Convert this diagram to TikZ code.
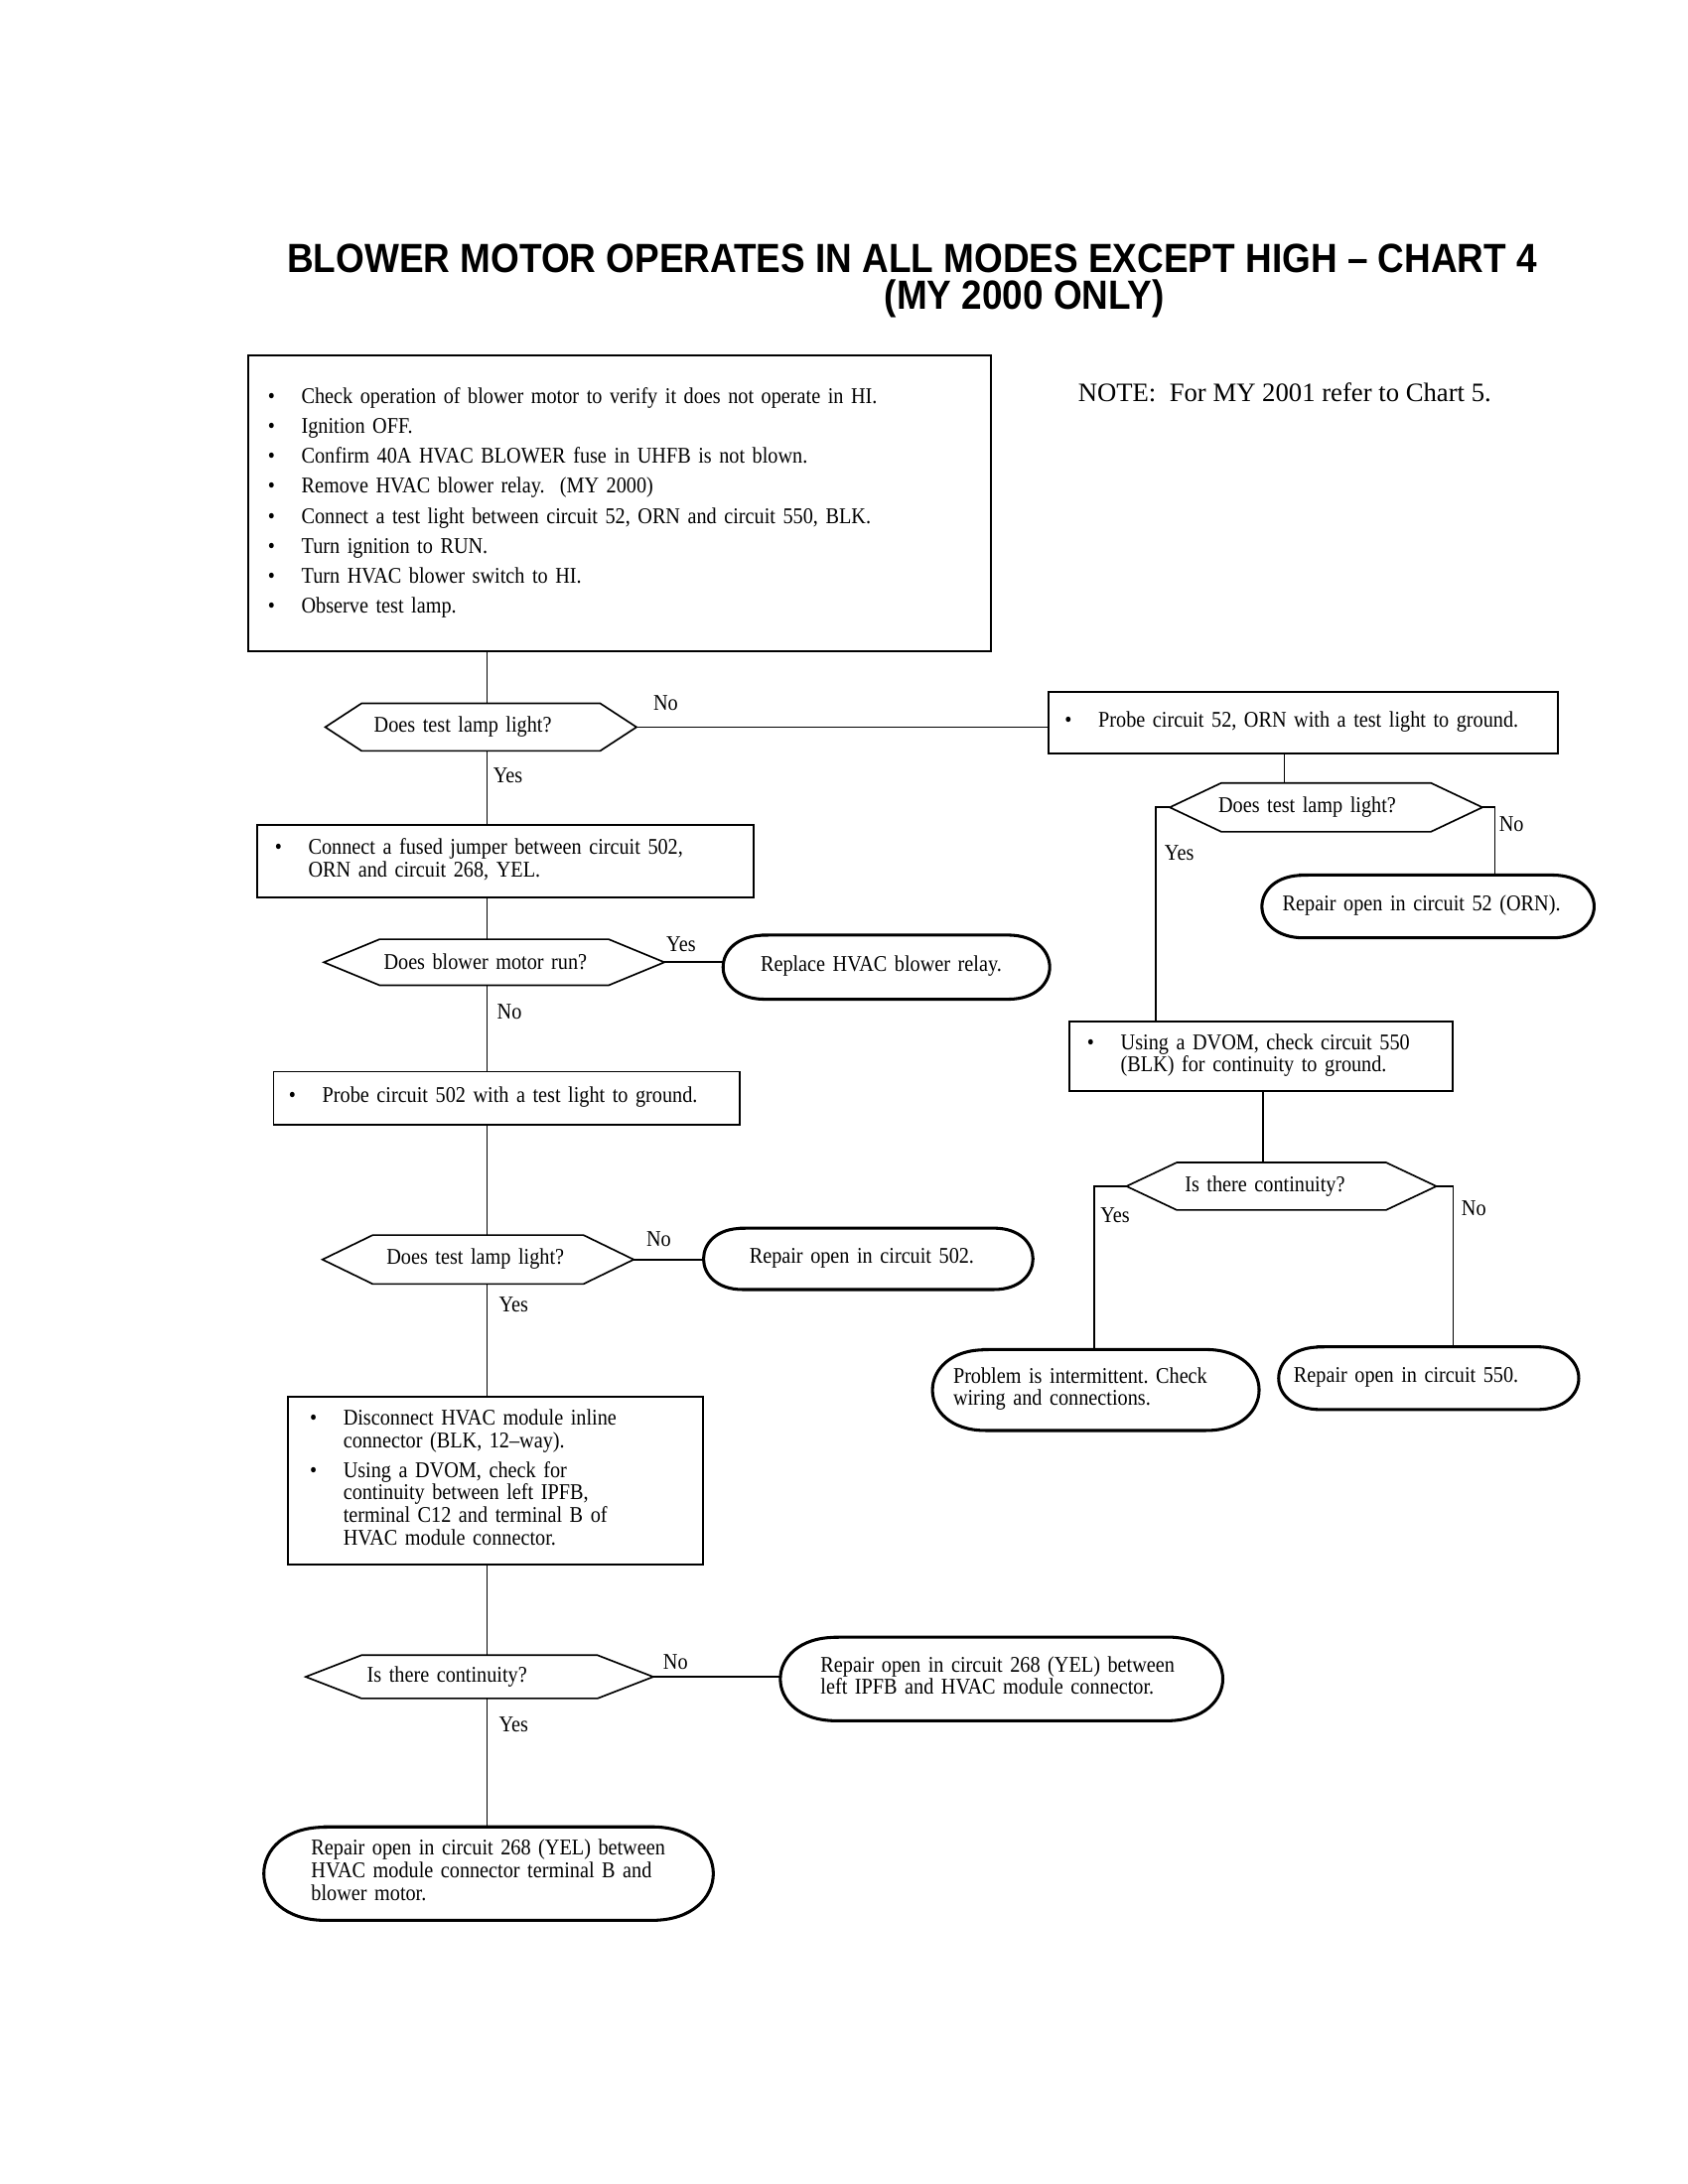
\documentclass[tikz,border=0pt]{standalone}
\usepackage{fontspec}
\setmainfont{Liberation Serif}
\newfontfamily\bodyfont[FakeStretch=0.894]{Liberation Serif}
\newfontfamily\titlefont[FakeStretch=0.9]{Liberation Sans}
\usetikzlibrary{calc}
\frenchspacing
\newcommand\hexout[2]{\draw[hexline] (#1.west) -- ([xshift=#2]#1.north west) -- ([xshift=-#2]#1.north east) -- (#1.east) -- ([xshift=-#2]#1.south east) -- ([xshift=#2]#1.south west) -- cycle;}
\newcommand\ovalout[2]{\draw[ovalline] ([xshift=#2]#1.north west) -- ([xshift=-#2]#1.north east) .. controls ([xshift=#2/3]#1.north east) and ([xshift=#2/3]#1.south east) .. ([xshift=-#2]#1.south east) -- ([xshift=#2]#1.south west) .. controls ([xshift=-#2/3]#1.south west) and ([xshift=-#2/3]#1.north west) .. cycle;}
\newcommand\gapb{\\[2.6pt]}
\begin{document}
\begin{tikzpicture}[x=0.5pt,y=-0.5pt,scale=1.012,every node/.style={transform shape},
  base/.style={font=\bodyfont\fontsize{8.05}{8.1}\selectfont, inner ysep=0pt, outer sep=0pt, align=left},
  rbox/.style={base, draw, line width=0.7pt},
  hexa/.style={base},
  ovalb/.style={base},
  hexline/.style={line width=0.6pt},
  ovalline/.style={line width=1.1pt},
  conn/.style={line width=0.6pt},
  lbl/.style={font=\bodyfont\fontsize{8.05}{8.1}\selectfont, inner sep=0pt},
]
\useasboundingbox (0,0) rectangle (1209.49,1565.22);

% title and note
\node[font=\titlefont\bfseries\fontsize{14.6}{16}\selectfont, inner sep=0pt] (title1) at (653.5,185) {BLOWER MOTOR OPERATES IN ALL MODES EXCEPT HIGH – CHART 4};
\node[font=\titlefont\bfseries\fontsize{14.6}{16}\selectfont, inner sep=0pt] (title2) at (734,214) {(MY 2000 ONLY)};
\node[font=\fontsize{9.5}{11}\selectfont, inner sep=0pt] (note) at (920.5,281) {NOTE:\ \ For MY 2001 refer to Chart 5.};

% columns
\coordinate (spine) at (349,0);
\coordinate (c920) at (920,0);
\coordinate (c905) at (905,0);
\coordinate (cYC) at (828,0);
\coordinate (cNC) at (1071,0);
\coordinate (cYP) at (784,0);
\coordinate (cNP) at (1041,0);

% boxes
\node[rbox, minimum width=266pt, minimum height=106pt, inner xsep=7pt, text width=252pt] (start) at (444,361) {%
\begin{tabular}{@{}p{12pt}@{}l@{}}
\textbullet & Check operation of blower motor to verify it does not operate in HI.\gapb
\textbullet & Ignition OFF.\gapb
\textbullet & Confirm 40A HVAC BLOWER fuse in UHFB is not blown.\gapb
\textbullet & Remove HVAC blower relay.\ \ (MY 2000)\gapb
\textbullet & Connect a test light between circuit 52, ORN and circuit 550, BLK.\gapb
\textbullet & Turn ignition to RUN.\gapb
\textbullet & Turn HVAC blower switch to HI.\gapb
\textbullet & Observe test lamp.
\end{tabular}};

\node[rbox, minimum width=182.5pt, minimum height=22pt, inner xsep=6pt, text width=170.5pt] (probe52) at (933.5,518) {%
\begin{tabular}{@{}p{12pt}@{}l@{}}
\textbullet & Probe circuit 52, ORN with a test light to ground.
\end{tabular}};

\node[rbox, minimum width=178pt, minimum height=26pt, inner xsep=6.5pt, text width=165pt] (jumper) at (362,617) {%
\begin{tabular}{@{}p{12pt}@{}l@{}}
\textbullet & Connect a fused jumper between circuit 502,\\
 & ORN and circuit 268, YEL.
\end{tabular}};

\node[rbox, minimum width=167pt, minimum height=19pt, inner xsep=5.5pt, text width=156pt] (probe502) at (363,787) {%
\begin{tabular}{@{}p{12pt}@{}l@{}}
\textbullet & Probe circuit 502 with a test light to ground.
\end{tabular}};

\node[rbox, minimum width=149pt, minimum height=60pt, inner xsep=8pt, text width=133pt] (disc) at (355,1061) {%
\begin{tabular}{@{}p{12pt}@{}l@{}}
\textbullet & Disconnect HVAC module inline\\
 & connector (BLK, 12–way).\gapb
\textbullet & Using a DVOM, check for\\
 & continuity between left IPFB,\\
 & terminal C12 and terminal B of\\
 & HVAC module connector.
\end{tabular}};

\node[rbox, minimum width=137.5pt, minimum height=25pt, inner xsep=6.5pt, text width=124.5pt] (dvom) at (903.5,757) {%
\begin{tabular}{@{}p{12pt}@{}l@{}}
\textbullet & Using a DVOM, check circuit 550\\
 & (BLK) for continuity to ground.
\end{tabular}};

% decisions
\node[hexa, minimum width=111.5pt, minimum height=17pt, inner xsep=17.5pt, text width=76.5pt] (dA) at (344.5,521) {Does test lamp light?};
\node[hexa, minimum width=112pt, minimum height=17.5pt, inner xsep=17.5pt, text width=77pt] (dC) at (950,578.5) {Does test lamp light?};
\node[hexa, minimum width=122pt, minimum height=16.5pt, inner xsep=21.5pt, text width=79pt] (dF) at (354,689.5) {Does blower motor run?};
\node[hexa, minimum width=111.5pt, minimum height=17.5pt, inner xsep=23pt, text width=65.5pt] (dI) at (342.5,902.5) {Does test lamp light?};
\node[hexa, minimum width=124.5pt, minimum height=15.5pt, inner xsep=22pt, text width=80.5pt] (dL) at (343.5,1201.5) {Is there continuity?};
\node[hexa, minimum width=111pt, minimum height=17pt, inner xsep=21pt, text width=69pt] (dP) at (918,850) {Is there continuity?};
\hexout{dA}{13pt}
\hexout{dC}{18.5pt}
\hexout{dF}{20pt}
\hexout{dI}{18pt}
\hexout{dL}{20pt}
\hexout{dP}{18pt}

% terminals
\node[ovalb, minimum width=119pt, minimum height=22.5pt, inner xsep=7.5pt, text width=104pt] (rep52) at (1023,649.5) {\begin{tabular}{@{}l@{}}Repair open in circuit 52 (ORN).\end{tabular}};
\node[ovalb, minimum width=117pt, minimum height=23pt, inner xsep=13.5pt, text width=90pt] (replace) at (635,693) {\begin{tabular}{@{}l@{}}Replace HVAC blower relay.\end{tabular}};
\node[ovalb, minimum width=118pt, minimum height=22pt, inner xsep=16.5pt, text width=85pt] (rep502) at (622,902) {\begin{tabular}{@{}l@{}}Repair open in circuit 502.\end{tabular}};
\node[ovalb, minimum width=158.5pt, minimum height=30pt, inner xsep=14.5pt, text width=129.5pt] (rep268a) at (717.5,1203) {\begin{tabular}{@{}l@{}}Repair open in circuit 268 (YEL) between\\ left IPFB and HVAC module connector.\end{tabular}};
\node[ovalb, minimum width=161pt, minimum height=33.5pt, inner xsep=17pt, text width=127pt] (rep268b) at (350,1342.5) {\begin{tabular}{@{}l@{}}Repair open in circuit 268 (YEL) between\\ HVAC module connector terminal B and\\ blower motor.\end{tabular}};
\node[ovalb, minimum width=117pt, minimum height=29pt, inner xsep=7.5pt, text width=102pt] (probInt) at (785,996) {\begin{tabular}{@{}l@{}}Problem is intermittent. Check\\ wiring and connections.\end{tabular}};
\node[ovalb, minimum width=107.5pt, minimum height=22.5pt, inner xsep=5.5pt, text width=96.5pt] (rep550) at (1023.5,987.5) {\begin{tabular}{@{}l@{}}Repair open in circuit 550.\end{tabular}};
\ovalout{rep52}{15pt}
\ovalout{replace}{15pt}
\ovalout{rep502}{14pt}
\ovalout{rep268a}{20pt}
\ovalout{rep268b}{22pt}
\ovalout{probInt}{19pt}
\ovalout{rep550}{15pt}

% connectors: main spine
\draw[conn] (start.south -| spine) -- (dA.north -| spine);
\draw[conn] (dA.south -| spine) -- (jumper.north -| spine);
\draw[conn] (jumper.south -| spine) -- (dF.north -| spine);
\draw[conn] (dF.south -| spine) -- (probe502.north -| spine);
\draw[conn] (probe502.south -| spine) -- (dI.north -| spine);
\draw[conn] (dI.south -| spine) -- (disc.north -| spine);
\draw[conn] (disc.south -| spine) -- (dL.north -| spine);
\draw[conn] (dL.south -| spine) -- (rep268b.north -| spine);
% horizontal branches
\draw[conn] (dA.east) -- (dA.east -| probe52.west);
\draw[conn] (dF.east) -- (dF.east -| replace.west);
\draw[conn] (dI.east) -- (dI.east -| rep502.west);
\draw[conn] (dL.east) -- (dL.east -| rep268a.west);
% right column
\draw[conn] (probe52.south -| c920) -- (dC.north -| c920);
\draw[conn] (dC.west) -| (dvom.north -| cYC);
\draw[conn] (dC.east) -| (rep52.north -| cNC);
\draw[conn] (dvom.south -| c905) -- (dP.north -| c905);
\draw[conn] (dP.west) -| (probInt.north -| cYP);
\draw[conn] (dP.east) -| (rep550.north -| cNP);

% labels
\node[lbl] (lA1) at (477,504) {No};
\node[lbl] (lA2) at (364,556) {Yes};
\node[lbl] (lC1) at (845,611) {Yes};
\node[lbl] (lC2) at (1083,591) {No};
\node[lbl] (lF1) at (488,677) {Yes};
\node[lbl] (lF2) at (365,725) {No};
\node[lbl] (lI1) at (472,888) {No};
\node[lbl] (lI2) at (368,935) {Yes};
\node[lbl] (lL1) at (484,1191) {No};
\node[lbl] (lL2) at (368,1236) {Yes};
\node[lbl] (lP1) at (799,871) {Yes};
\node[lbl] (lP2) at (1056,866) {No};
\end{tikzpicture}
\end{document}
